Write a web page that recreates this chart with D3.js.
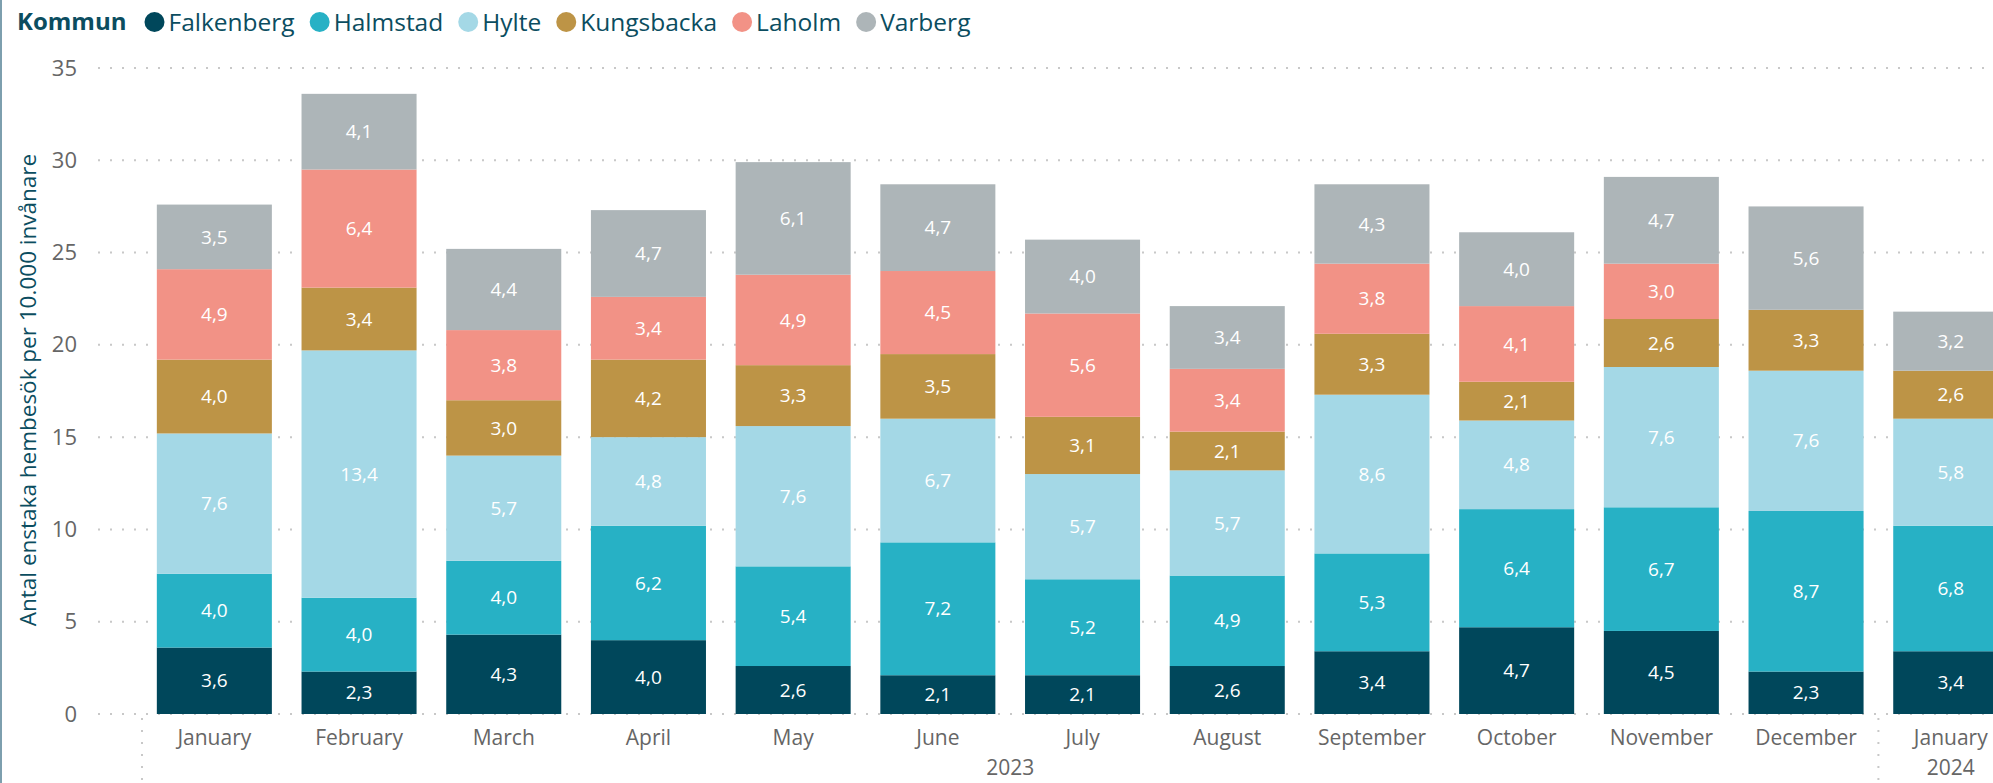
<!DOCTYPE html>
<html>
<head>
<meta charset="utf-8">
<script src="https://cdn.jsdelivr.net/npm/d3@7"></script>
<style>
  body { margin: 0; background: #fff; overflow: hidden; }
  text { font-family: "Open Sans", "Noto Sans", sans-serif; }
</style>
</head>
<body>
<div id="chart"></div>
<script>
// months shown on the x axis (2023 + first month of 2024)
var periods = ["2023-01","2023-02","2023-03","2023-04","2023-05","2023-06","2023-07",
               "2023-08","2023-09","2023-10","2023-11","2023-12","2024-01"];
var monthLabels = ["January","February","March","April","May","June","July",
                   "August","September","October","November","December","January"];
var years = ["2023","2023","2023","2023","2023","2023","2023",
             "2023","2023","2023","2023","2023","2024"];

var kommuner = ["Falkenberg","Halmstad","Hylte","Kungsbacka","Laholm","Varberg"];
var colors = ["#00475b","#27b1c5","#a4d8e6","#bd9446","#f29286","#adb5b8"];

// visits per 10.000 inhabitants, one array per kommun
var falkenberg = [3.6, 2.3, 4.3, 4.0, 2.6, 2.1, 2.1, 2.6, 3.4, 4.7, 4.5, 2.3, 3.4];
var halmstad   = [4.0, 4.0, 4.0, 6.2, 5.4, 7.2, 5.2, 4.9, 5.3, 6.4, 6.7, 8.7, 6.8];
var hylte      = [7.6, 13.4, 5.7, 4.8, 7.6, 6.7, 5.7, 5.7, 8.6, 4.8, 7.6, 7.6, 5.8];
var kungsbacka = [4.0, 3.4, 3.0, 4.2, 3.3, 3.5, 3.1, 2.1, 3.3, 2.1, 2.6, 3.3, 2.6];
var laholm     = [4.9, 6.4, 3.8, 3.4, 4.9, 4.5, 5.6, 3.4, 3.8, 4.1, 3.0, null, null];
var varberg    = [3.5, 4.1, 4.4, 4.7, 6.1, 4.7, 4.0, 3.4, 4.3, 4.0, 4.7, 5.6, 3.2];

var yTicks = [0, 5, 10, 15, 20, 25, 30, 35];

var W = 1993, H = 783;
var series = [falkenberg, halmstad, hylte, kungsbacka, laholm, varberg];

var rows = periods.map(function(p, i) {
  var r = { period: p, i: i };
  kommuner.forEach(function(k, j) { r[k] = series[j][i] == null ? 0 : series[j][i]; });
  return r;
});

var svg = d3.select("#chart").append("svg")
  .attr("width", W).attr("height", H);

// left border of the visual
svg.append("rect").attr("x", 0).attr("y", 0).attr("width", 2).attr("height", H)
  .attr("fill", "#7d9fae");

var plotLeft = 98, plotTop = 68, plotBottom = 714;
var step = 144.7, bandStart = 142;

var x = d3.scaleBand()
  .domain(periods)
  .range([bandStart, bandStart + step * periods.length])
  .paddingInner(0.205)
  .paddingOuter(0.1025);

var y = d3.scaleLinear()
  .domain([0, 35])
  .range([plotBottom, plotTop]);

// dotted gridlines
svg.append("g")
  .selectAll("line")
  .data(yTicks)
  .enter()
  .append("line")
    .attr("x1", plotLeft)
    .attr("x2", W)
    .attr("y1", function(d) { return y(d); })
    .attr("y2", function(d) { return y(d); })
    .attr("stroke", "#c8c8c8")
    .attr("stroke-width", 2)
    .attr("stroke-dasharray", "2 10");

// y axis
var yAxis = svg.append("g")
  .attr("transform", "translate(" + plotLeft + ",0)")
  .call(d3.axisLeft(y).tickValues(yTicks).tickSize(0).tickPadding(21));
yAxis.select(".domain").remove();
yAxis.selectAll("text")
  .attr("fill", "#666666")
  .style("font-size", "22px");

// y axis title
svg.append("text")
  .attr("transform", "translate(28," + 390 + ") rotate(-90)")
  .attr("text-anchor", "middle")
  .attr("dy", "0.35em")
  .attr("fill", "#0b4d60")
  .style("font-size", "22.5px")
  .text("Antal enstaka hembesök per 10.000 invånare");

// stacked bars
var stacked = d3.stack().keys(kommuner)(rows);

var layers = svg.append("g")
  .selectAll("g")
  .data(stacked)
  .enter()
  .append("g")
    .attr("fill", function(d, i) { return colors[i]; });

layers.selectAll("rect")
  .data(function(d) { return d; })
  .enter()
  .append("rect")
    .attr("x", function(d) { return x(d.data.period); })
    .attr("y", function(d) { return y(d[1]); })
    .attr("width", x.bandwidth())
    .attr("height", function(d) { return y(d[0]) - y(d[1]); });

// data labels
layers.selectAll("text")
  .data(function(d) { return d.filter(function(s) { return s[1] - s[0] > 0; }); })
  .enter()
  .append("text")
    .attr("x", function(d) { return x(d.data.period) + x.bandwidth() / 2; })
    .attr("y", function(d) { return y((d[0] + d[1]) / 2); })
    .attr("dy", "0.35em")
    .attr("text-anchor", "middle")
    .attr("fill", "#ffffff")
    .style("font-size", "19px")
    .text(function(d) { return d3.format(".1f")(d[1] - d[0]).replace(".", ","); });

// x axis, month labels
var xAxis = svg.append("g")
  .attr("transform", "translate(0," + plotBottom + ")")
  .call(d3.axisBottom(x).tickSize(0).tickFormat(function(d, i) { return monthLabels[i]; }));
xAxis.select(".domain").remove();
xAxis.selectAll("text")
  .attr("y", 24)
  .attr("dy", "0.35em")
  .attr("fill", "#666666")
  .style("font-size", "21px");

// year level of the hierarchy
var yearGroups = d3.groups(periods, function(p) { return years[periods.indexOf(p)]; });
yearGroups.forEach(function(g) {
  var first = g[1][0], last = g[1][g[1].length - 1];
  var x0 = x(first) - x.step() * x.paddingInner() / 2;
  var x1 = x(last) + x.bandwidth() + x.step() * x.paddingInner() / 2;
  svg.append("text")
    .attr("x", (x0 + x1) / 2)
    .attr("y", 768)
    .attr("dy", "0.35em")
    .attr("text-anchor", "middle")
    .attr("fill", "#666666")
    .style("font-size", "21px")
    .text(g[0]);
  svg.append("line")
    .attr("x1", x0).attr("x2", x0)
    .attr("y1", 718).attr("y2", H)
    .attr("stroke", "#c8c8c8")
    .attr("stroke-width", 2)
    .attr("stroke-dasharray", "2 10");
});

// legend
var legend = svg.append("g").attr("transform", "translate(0,22)");
var title = legend.append("text")
  .attr("x", 17)
  .attr("dy", "0.35em")
  .attr("fill", "#0b4d60")
  .style("font-size", "24px")
  .style("font-weight", "bold")
  .text("Kommun");
var lx = 17 + title.node().getComputedTextLength() + 18;
kommuner.forEach(function(k, i) {
  legend.append("circle")
    .attr("cx", lx + 10).attr("cy", 0).attr("r", 10)
    .attr("fill", colors[i]);
  var t = legend.append("text")
    .attr("x", lx + 24)
    .attr("dy", "0.35em")
    .attr("fill", "#0b4d60")
    .style("font-size", "24.5px")
    .text(k);
  lx = lx + 24 + t.node().getComputedTextLength() + 15;
});
</script>
</body>
</html>
